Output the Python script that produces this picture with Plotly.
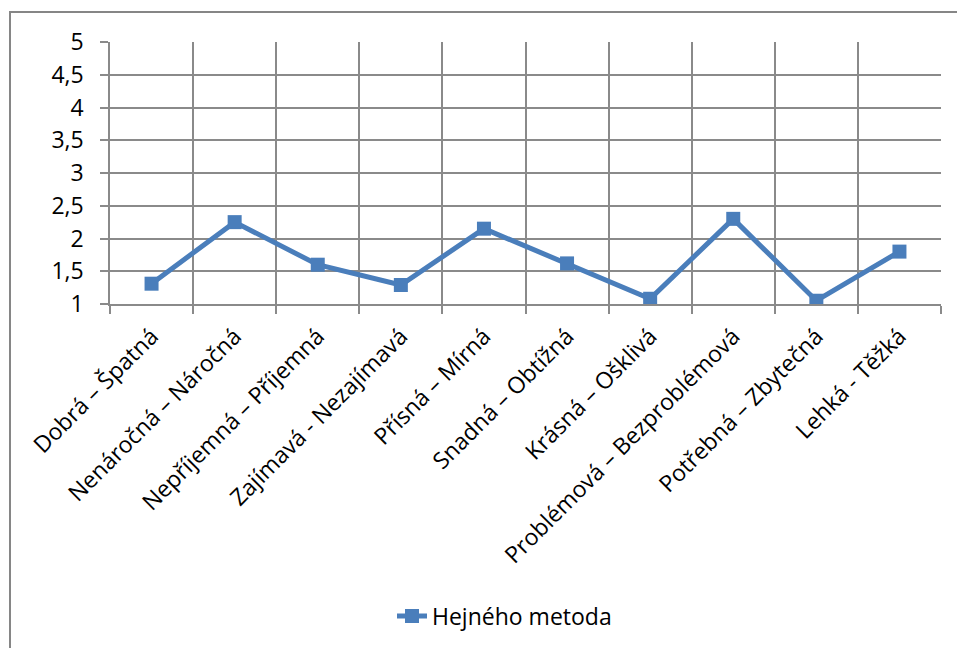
import plotly.graph_objects as go

categories = [
    "Dobrá – Špatná",
    "Nenáročná – Náročná",
    "Nepříjemná – Příjemná",
    "Zajímavá - Nezajímavá",
    "Přísná – Mírná",
    "Snadná – Obtížná",
    "Krásná – Ošklivá",
    "Problémová – Bezproblémová",
    "Potřebná – Zbytečná",
    "Lehká - Těžká",
]
values = [1.31, 2.25, 1.60, 1.29, 2.15, 1.62, 1.08, 2.30, 1.05, 1.80]
series_name = "Hejného metoda"
y_ticks = [1, 1.5, 2, 2.5, 3, 3.5, 4, 4.5, 5]
y_tick_labels = ["1", "1,5", "2", "2,5", "3", "3,5", "4", "4,5", "5"]

W, H = 957, 648
L, R, T, B = 110, 16, 42, 343
pw, ph = W - L - R, H - T - B

def px_x(p):
    return (p - L) / pw

def px_y(p):
    return (H - B - p) / ph

BLUE = "#4A7EBB"
GRID = "#8A8A8A"
FONT = "Open Sans"

fig = go.Figure()
fig.add_trace(go.Scatter(
    x=categories, y=values, name=series_name,
    mode="lines+markers",
    line=dict(color=BLUE, width=5),
    marker=dict(symbol="square", size=14, color=BLUE, line=dict(width=0)),
))

fig.update_layout(
    width=W, height=H,
    margin=dict(l=L, r=R, t=T, b=B),
    paper_bgcolor="white", plot_bgcolor="white",
    font=dict(family=FONT, size=23, color="black"),
    showlegend=True,
    legend=dict(orientation="h", x=px_x(392), xanchor="left",
                y=px_y(616), yanchor="middle",
                font=dict(family=FONT, size=23, color="black"),
                bgcolor="rgba(0,0,0,0)"),
    xaxis=dict(
        type="category", range=[-0.5, 9.5],
        tickson="boundaries", ticks="outside", ticklen=8,
        tickcolor=GRID, tickwidth=1.5,
        showgrid=True, gridcolor=GRID, gridwidth=1.5,
        showline=True, linecolor=GRID, linewidth=1.5,
        tickangle=-45, tickfont=dict(family=FONT, size=23),
        ticklabelstandoff=8,
        fixedrange=True,
    ),
    yaxis=dict(
        range=[1, 5], tickvals=y_ticks, ticktext=y_tick_labels,
        ticks="outside", ticklen=8, tickcolor=GRID, tickwidth=1.5,
        showgrid=True, gridcolor=GRID, gridwidth=1.5,
        showline=True, linecolor=GRID, linewidth=1.5,
        ticklabelstandoff=12, zeroline=False,
        tickfont=dict(family=FONT, size=23),
    ),
    shapes=[dict(
        type="rect", xref="paper", yref="paper",
        x0=px_x(10), x1=px_x(965), y0=px_y(12), y1=px_y(660),
        line=dict(color="#868686", width=2), fillcolor="rgba(0,0,0,0)",
        layer="below",
    )],
)

fig.write_html("out.html")
